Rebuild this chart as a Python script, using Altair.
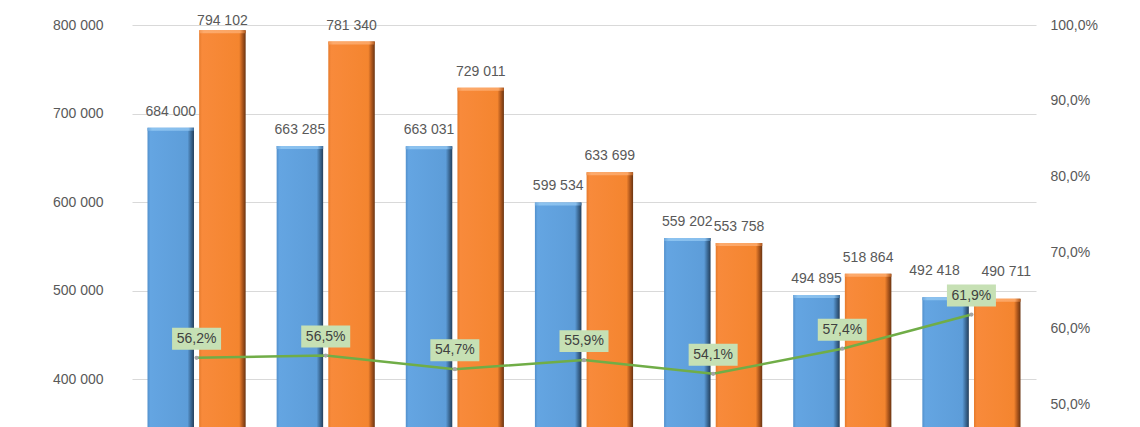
import altair as alt
import pandas as pd

categories = ["1", "2", "3", "4", "5", "6", "7"]
series_names = ["Série 1", "Série 2"]
series_1 = [684000, 663285, 663031, 599534, 559202, 494895, 492418]
series_2 = [794102, 781340, 729011, 633699, 553758, 518864, 490711]
ratio = [0.562, 0.565, 0.547, 0.559, 0.541, 0.574, 0.619]
left_ticks = [300000, 400000, 500000, 600000, 700000, 800000]
right_ticks = [0.5, 0.6, 0.7, 0.8, 0.9, 1.0]

rows = []
for c, a, b in zip(categories, series_1, series_2):
    rows.append({"cat": c, "series": series_names[0], "value": a})
    rows.append({"cat": c, "series": series_names[1], "value": b})
bars_df = pd.DataFrame(rows)
line_df = pd.DataFrame({"cat": categories, "ratio": ratio})

FONT = "Liberation Sans"
GREY = "#595959"
LAST = categories[-1]

x_enc = alt.X("cat:N", sort=categories, axis=None,
              scale=alt.Scale(paddingInner=0.24, paddingOuter=0.12))
xoff = alt.XOffset("series:N", sort=series_names,
                   scale=alt.Scale(domain=series_names, paddingInner=0.1))
left_scale = alt.Scale(domain=[345763, 800000], nice=False, zero=False)
left_axis = alt.Axis(values=left_ticks, format=",d", title=None,
                     grid=True, gridColor="#D9D9D9", gridWidth=1,
                     domain=False, ticks=False, labelPadding=29,
                     labelFont=FONT, labelFontSize=14, labelColor=GREY)
y_left = alt.Y("value:Q", scale=left_scale, axis=left_axis)

blue_grad = alt.LinearGradient(
    gradient="linear", x1=0, x2=1, y1=0, y2=0,
    stops=[alt.GradientStop(offset=0, color="#5290CC"),
           alt.GradientStop(offset=0.06, color="#64A5E2"),
           alt.GradientStop(offset=0.86, color="#5D9DD9"),
           alt.GradientStop(offset=0.93, color="#3D6C99"),
           alt.GradientStop(offset=1, color="#243F5B")])
orange_grad = alt.LinearGradient(
    gradient="linear", x1=0, x2=1, y1=0, y2=0,
    stops=[alt.GradientStop(offset=0, color="#E57A2B"),
           alt.GradientStop(offset=0.06, color="#F88A3B"),
           alt.GradientStop(offset=0.86, color="#F4852F"),
           alt.GradientStop(offset=0.93, color="#B0581D"),
           alt.GradientStop(offset=1, color="#6A3411")])
blue_top = alt.LinearGradient(
    gradient="linear", x1=0, x2=1, y1=0, y2=0,
    stops=[alt.GradientStop(offset=0, color="#6FA9DE"),
           alt.GradientStop(offset=0.1, color="#8CC3F0"),
           alt.GradientStop(offset=0.88, color="#86BDEC"),
           alt.GradientStop(offset=1, color="#3D6C99")])
orange_top = alt.LinearGradient(
    gradient="linear", x1=0, x2=1, y1=0, y2=0,
    stops=[alt.GradientStop(offset=0, color="#F39550"),
           alt.GradientStop(offset=0.1, color="#FDAA6C"),
           alt.GradientStop(offset=0.88, color="#FBA462"),
           alt.GradientStop(offset=1, color="#B0581D")])

base_bars = alt.Chart(bars_df).transform_calculate(
    top_edge="datum.value - 3400",
    label_y="min(datum.value, 786400)",
)
s1 = alt.datum.series == series_names[0]
s2 = alt.datum.series == series_names[1]

bar1 = base_bars.transform_filter(s1).mark_bar(clip=True, color=blue_grad).encode(
    x=x_enc, xOffset=xoff, y=y_left, y2=alt.datum(0))
bar2 = base_bars.transform_filter(s2).mark_bar(clip=True, color=orange_grad).encode(
    x=x_enc, xOffset=xoff, y=y_left, y2=alt.datum(0))
top1 = base_bars.transform_filter(s1).mark_bar(clip=True, color=blue_top).encode(
    x=x_enc, xOffset=xoff, y=y_left, y2="top_edge:Q")
top2 = base_bars.transform_filter(s2).mark_bar(clip=True, color=orange_top).encode(
    x=x_enc, xOffset=xoff, y=y_left, y2="top_edge:Q")

label_style = dict(baseline="middle", align="center", font=FONT, fontSize=14, color=GREY)
y_label = alt.Y("label_y:Q", scale=left_scale, axis=left_axis)
bar_labels = base_bars.transform_filter(alt.datum.cat != LAST).mark_text(
    dy=-16, **label_style).encode(
    x=x_enc, xOffset=xoff, y=y_label, text=alt.Text("value:Q", format=",d"))
last_label_1 = base_bars.transform_filter((alt.datum.cat == LAST) & s1).mark_text(
    dy=-26, dx=-11, **label_style).encode(
    x=x_enc, xOffset=xoff, y=y_label, text=alt.Text("value:Q", format=",d"))
last_label_2 = base_bars.transform_filter((alt.datum.cat == LAST) & s2).mark_text(
    dy=-27, dx=9, **label_style).encode(
    x=x_enc, xOffset=xoff, y=y_label, text=alt.Text("value:Q", format=",d"))

bars_layer = alt.layer(bar1, bar2, top1, top2, bar_labels, last_label_1, last_label_2)

y_right = alt.Y("ratio:Q",
                scale=alt.Scale(domain=[0.471, 1.0], nice=False, zero=False),
                axis=alt.Axis(values=right_ticks, format=".1%", title=None, orient="right",
                              grid=False, domain=False, ticks=False, labelPadding=14,
                              labelFont=FONT, labelFontSize=14, labelColor=GREY))

base_line = alt.Chart(line_df)
line = base_line.mark_line(color="#70AD47", strokeWidth=2.5).encode(x=x_enc, y=y_right)
pts = base_line.mark_point(filled=True, color="#A5A5A5", size=18, opacity=1).encode(
    x=x_enc, y=y_right)
box_path = "M-1,-1.224L1,-1.224L1,-0.327L-1,-0.327Z"
boxes = base_line.mark_point(shape=box_path, filled=True, fill="#C6E0B4", opacity=1,
                             size=2401, strokeWidth=0).encode(x=x_enc, y=y_right)
pct_text = base_line.mark_text(dy=-19, baseline="middle", align="center",
                               font=FONT, fontSize=14, color="#404040").encode(
    x=x_enc, y=y_right, text=alt.Text("ratio:Q", format=".1%"))

line_layer = alt.layer(line, pts, boxes, pct_text)

chart = alt.layer(bars_layer, line_layer).resolve_scale(y="independent").properties(
    width=904, height=402,
    autosize=alt.AutoSizeParams(type="none"),
    padding={"left": 124, "top": 17, "right": 96, "bottom": 0},
    background="white",
).configure(
    locale=alt.Locale(number=alt.NumberLocale(decimal=",", thousands=" ",
                                              grouping=[3], currency=["", ""]))
).configure_view(stroke=None)

chart.save("out.html", embed_options={"renderer": "svg", "actions": False})
